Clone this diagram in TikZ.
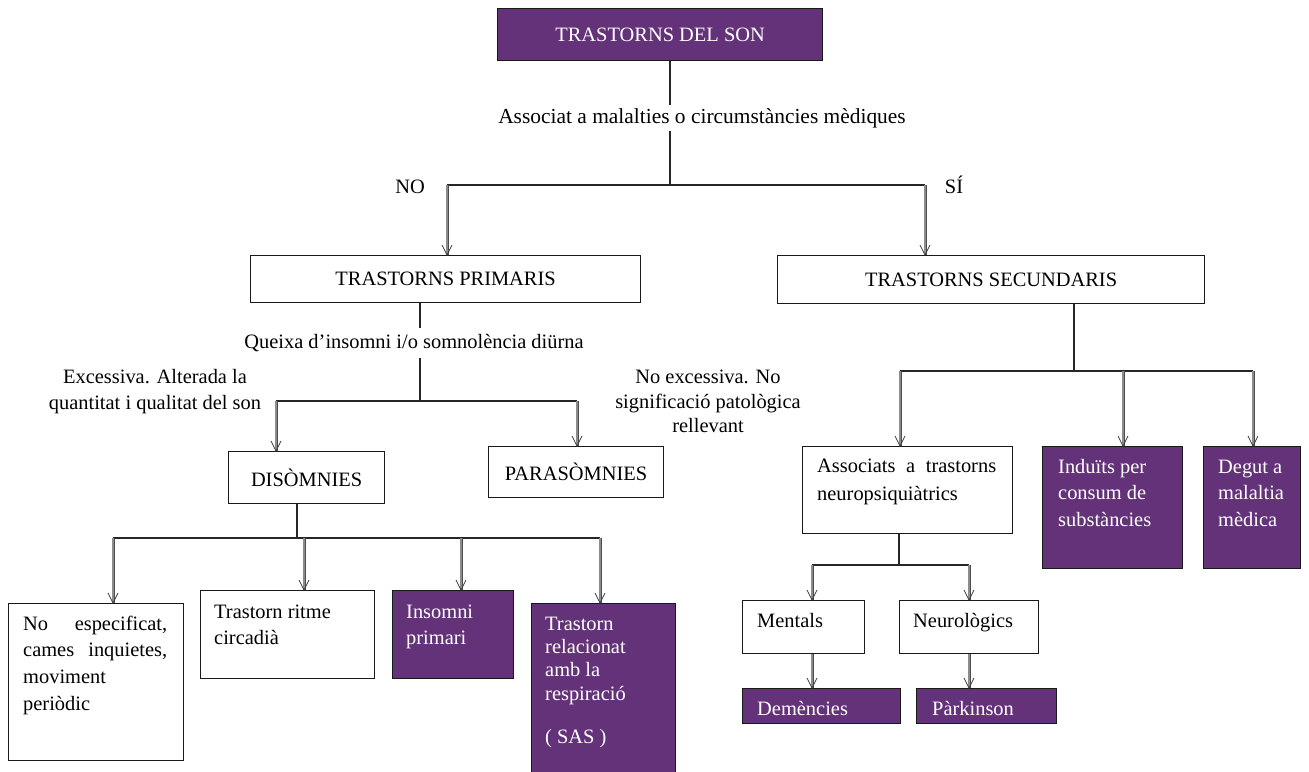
\documentclass[tikz,border=0pt]{standalone}
\usepackage{fontspec}
\setmainfont{Liberation Serif}
\definecolor{purp}{RGB}{99,50,120}
\tikzset{
 box/.style={draw=black!90, line width=1.2bp, inner sep=0, anchor=north west},
 pbox/.style={box, fill=purp, text=white},
 txt/.style={inner sep=0, anchor=north west, align=left},
 lbl/.style={inner xsep=0, inner ysep=3bp, align=center},
 hline/.style={draw=black!85, line width=1.6bp},
 dline/.style={draw=black!70, line width=0.9bp, double=black!45, double distance=1.2bp},
 vtip/.style={draw=black!75, line width=0.8bp},
}
\newcommand\myarrow[2]{%
 \draw[dline] (#1) -- (#2);
 \draw[vtip] (#2) ++(-5,-10) -- (#2) -- ++(5,-10);
}
\begin{document}
\begin{tikzpicture}[x=1bp,y=-1bp,font=\fontsize{20.5}{26}\selectfont]
\useasboundingbox (0,0) rectangle (1309,771);
% boxes
\node[pbox, minimum width=325bp, minimum height=52bp] (top) at (497,8) {TRASTORNS DEL SON};
\node[box, minimum width=390bp, minimum height=47bp] (prim) at (250,255) {TRASTORNS PRIMARIS};
\node[box, minimum width=427bp, minimum height=48bp] (sec) at (777,255) {TRASTORNS SECUNDARIS};
\node[box, minimum width=156bp, minimum height=52bp] (dis) at (228,451) {DISÒMNIES};
\node[box, minimum width=175bp, minimum height=51bp] (par) at (488,446) {PARASÒMNIES};
\node[box, minimum width=175bp, minimum height=157bp] (b1) at (8,603) {};
\node[box, minimum width=174bp, minimum height=88bp] (b2) at (200,590) {};
\node[pbox, minimum width=121bp, minimum height=88bp] (b3) at (392,590) {};
\node[pbox, minimum width=144bp, minimum height=180bp] (b4) at (531,603) {};
\node[box, minimum width=210bp, minimum height=87bp] (ass) at (802,446) {};
\node[pbox, minimum width=140bp, minimum height=122bp] (ind) at (1042,446) {};
\node[pbox, minimum width=97bp, minimum height=122bp] (deg) at (1203,446) {};
\node[box, minimum width=122bp, minimum height=53bp] (men) at (742,600) {};
\node[box, minimum width=139bp, minimum height=53bp] (neu) at (899,600) {};
\node[pbox, minimum width=158bp, minimum height=35bp] (dem) at (742,688) {};
\node[pbox, minimum width=140bp, minimum height=35bp] (park) at (916,688) {};
% box texts
\node[txt, font=\fontsize{20.5}{27}\selectfont] (b1t) at (23,611) {\strut\makebox[144bp][s]{No especificat,}\\\makebox[144bp][s]{cames inquietes,}\\moviment\\periòdic};
\node[txt] (b2t) at (214,600) {\strut Trastorn ritme\\circadià};
\node[txt, text=white] (b3t) at (406,600) {\strut Insomni\\primari};
\node[txt, text=white, font=\fontsize{20.5}{23.3}\selectfont] (b4t) at (545,614) {\strut Trastorn\\relacionat\\amb la\\respiració\\[20bp]( SAS )};
\node[txt, font=\fontsize{20.5}{28}\selectfont] (asst) at (817,453) {\strut\makebox[179bp][s]{Associats a trastorns}\\neuropsiquiàtrics};
\node[txt, text=white, font=\fontsize{20.5}{27}\selectfont] (indt) at (1058,454) {\strut Induïts per\\consum de\\substàncies};
\node[txt, text=white, font=\fontsize{20.5}{27}\selectfont] (degt) at (1218,454) {\strut Degut a\\malaltia\\mèdica};
\node[txt] (ment) at (757,609) {\strut Mentals};
\node[txt] (neut) at (913,609) {\strut Neurològics};
\node[txt, text=white] (demt) at (757,697) {\strut Demències};
\node[txt, text=white] (parkt) at (932,697) {\strut Pàrkinson};
% labels
\node[lbl, anchor=base, font=\fontsize{21.5}{26}\selectfont] (q1) at (702,123) {Associat a malalties o circumstàncies mèdiques};
\node[lbl, anchor=base, inner ysep=6bp] (q2) at (414,348) {Queixa d’insomni i/o somnolència diürna};
\node[lbl, anchor=base] (no) at (410,193) {NO};
\node[lbl, anchor=base] (si) at (954,193) {SÍ};
\node[lbl, inner ysep=0, anchor=north] (exc) at (155,365) {\strut Excessiva. Alterada la\\quantitat i qualitat del son};
\node[lbl, inner ysep=0, anchor=north, font=\fontsize{20.5}{25}\selectfont] (nexc) at (708,365.5) {\strut No excessiva. No\\significació patològica\\rellevant};
% junctions
\coordinate (j0) at (670,185);
\coordinate (jL) at (447,185);
\coordinate (jR) at (925,185);
\coordinate (k0) at (420,401);
\coordinate (kL) at (276,401);
\coordinate (kR) at (577,401);
\coordinate (m0) at (297,538);
\coordinate (m1) at (113,538);
\coordinate (m2) at (304,538);
\coordinate (m3) at (461,538);
\coordinate (m4) at (600,538);
\coordinate (n0) at (1074,371);
\coordinate (n1) at (900,371);
\coordinate (n2) at (1123,371);
\coordinate (n3) at (1253,371);
\coordinate (r0) at (899,565);
\coordinate (r1) at (812,565);
\coordinate (r2) at (969,565);
% connectors
\draw[hline] (top.south -| j0) -- (q1.north -| j0);
\draw[hline] (q1.south -| j0) -- (j0);
\draw[hline] (jL) -- (jR);
\myarrow{jL}{jL |- prim.north}
\myarrow{jR}{jR |- sec.north}
\draw[hline] (prim.south -| k0) -- (q2.north -| k0);
\draw[hline] (q2.south -| k0) -- (k0);
\draw[hline] (kL) -- (kR);
\myarrow{kL}{kL |- dis.north}
\myarrow{kR}{kR |- par.north}
\draw[hline] (dis.south -| m0) -- (m0);
\draw[hline] (m1) -- (m4);
\myarrow{m1}{m1 |- b1.north}
\myarrow{m2}{m2 |- b2.north}
\myarrow{m3}{m3 |- b3.north}
\myarrow{m4}{m4 |- b4.north}
\draw[hline] (sec.south -| n0) -- (n0);
\draw[hline] (n1) -- (n3);
\myarrow{n1}{n1 |- ass.north}
\myarrow{n2}{n2 |- ind.north}
\myarrow{n3}{n3 |- deg.north}
\draw[hline] (ass.south -| r0) -- (r0);
\draw[hline] (r1) -- (r2);
\myarrow{r1}{r1 |- men.north}
\myarrow{r2}{r2 |- neu.north}
\myarrow{men.south -| r1}{r1 |- dem.north}
\myarrow{neu.south -| r2}{r2 |- park.north}
\end{tikzpicture}
\end{document}
